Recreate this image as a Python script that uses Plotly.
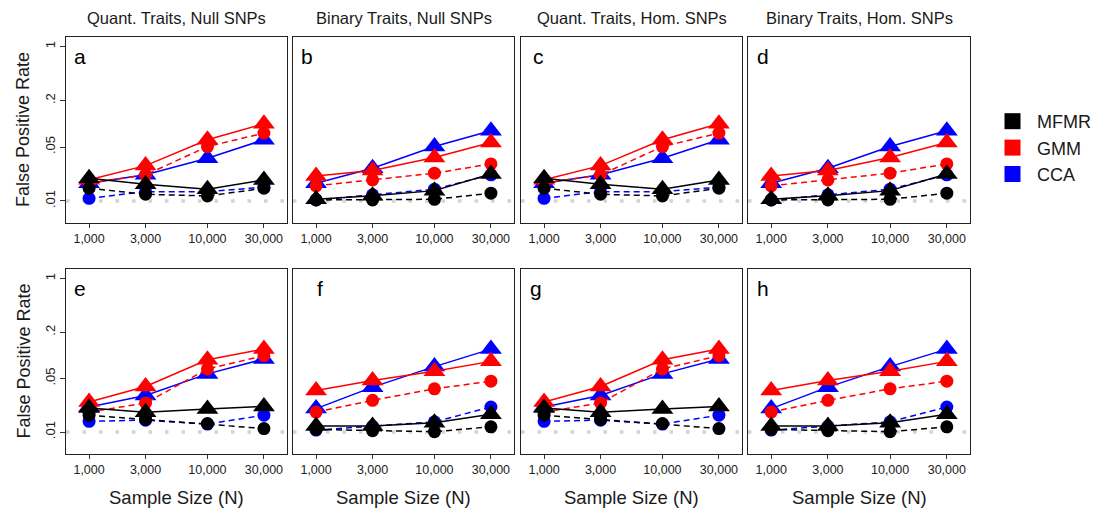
import numpy as np
import plotly.graph_objects as go

# ---------------- data ----------------
SAMPLE_SIZES = [1000, 3000, 10000, 30000]
X_TICK_LABELS = ["1,000", "3,000", "10,000", "30,000"]
Y_TICK_VALUES = [1, 0.2, 0.05, 0.01]
Y_TICK_LABELS = ["1", ".2", ".05", ".01"]
ALPHA = 0.01

COLUMN_TITLES = ["Quant. Traits, Null SNPs", "Binary Traits, Null SNPs",
                 "Quant. Traits, Hom. SNPs", "Binary Traits, Hom. SNPs"]
PANEL_LETTERS = ["a", "b", "c", "d", "e", "f", "g", "h"]
METHODS = ["MFMR", "GMM", "CCA"]
METHOD_COLORS = {"MFMR": "#000000", "GMM": "#ff0000", "CCA": "#0000ff"}

# Row 1, quantitative traits (panels a, c)
Q1_MFMR_SOLID = [0.0197, 0.0164, 0.0142, 0.0187]
Q1_MFMR_DASHED = [0.0146, 0.0122, 0.0116, 0.0146]
Q1_GMM_SOLID = [0.0188, 0.0287, 0.0620, 0.1000]
Q1_GMM_DASHED = [0.0170, 0.0218, 0.0507, 0.0757]
Q1_CCA_SOLID = [0.0170, 0.0218, 0.0358, 0.0620]
Q1_CCA_DASHED = [0.0108, 0.0132, 0.0132, 0.0151]

# Row 1, binary traits (panels b, d)
B1_MFMR_SOLID = [0.0105, 0.0117, 0.0136, 0.0224]
B1_MFMR_DASHED = [0.0103, 0.0103, 0.0105, 0.0126]
B1_GMM_SOLID = [0.0211, 0.0248, 0.0365, 0.0572]
B1_GMM_DASHED = [0.0157, 0.0187, 0.0229, 0.0302]
B1_CCA_SOLID = [0.0170, 0.0266, 0.0508, 0.0811]
B1_CCA_DASHED = [0.0103, 0.0120, 0.0142, 0.0218]

# Row 2, quantitative traits (panels e, g)
Q2_MFMR_SOLID = [0.0206, 0.0181, 0.0200, 0.0216]
Q2_MFMR_DASHED = [0.0166, 0.0146, 0.0129, 0.0111]
Q2_GMM_SOLID = [0.0246, 0.0393, 0.0877, 0.1205]
Q2_GMM_DASHED = [0.0182, 0.0239, 0.0664, 0.0989]
Q2_CCA_SOLID = [0.0212, 0.0300, 0.0573, 0.0895]
Q2_CCA_DASHED = [0.0138, 0.0143, 0.0127, 0.0166]

# Row 2, binary traits (panels f, h)
B2_MFMR_SOLID = [0.0120, 0.0120, 0.0132, 0.0171]
B2_MFMR_DASHED = [0.0108, 0.0104, 0.0101, 0.0117]
B2_GMM_SOLID = [0.0348, 0.0469, 0.0619, 0.0834]
B2_GMM_DASHED = [0.0182, 0.0259, 0.0366, 0.0460]
B2_CCA_SOLID = [0.0202, 0.0385, 0.0713, 0.1205]
B2_CCA_DASHED = [0.0106, 0.0119, 0.0136, 0.0212]

Q1 = {"MFMR": (Q1_MFMR_SOLID, Q1_MFMR_DASHED), "GMM": (Q1_GMM_SOLID, Q1_GMM_DASHED),
      "CCA": (Q1_CCA_SOLID, Q1_CCA_DASHED)}
B1 = {"MFMR": (B1_MFMR_SOLID, B1_MFMR_DASHED), "GMM": (B1_GMM_SOLID, B1_GMM_DASHED),
      "CCA": (B1_CCA_SOLID, B1_CCA_DASHED)}
Q2 = {"MFMR": (Q2_MFMR_SOLID, Q2_MFMR_DASHED), "GMM": (Q2_GMM_SOLID, Q2_GMM_DASHED),
      "CCA": (Q2_CCA_SOLID, Q2_CCA_DASHED)}
B2 = {"MFMR": (B2_MFMR_SOLID, B2_MFMR_DASHED), "GMM": (B2_GMM_SOLID, B2_GMM_DASHED),
      "CCA": (B2_CCA_SOLID, B2_CCA_DASHED)}
PANEL_DATA = [Q1, B1, Q1, B1, Q2, B2, Q2, B2]

# ---------------- layout geometry ----------------
W, H = 1106, 514
FONT = "Liberation Sans, Arial, Helvetica, sans-serif"
COL_PX = [(66, 287), (293, 514), (521, 742), (748, 970)]
ROW_PX = [(37, 223), (269, 454)]
LETTER_OFFSET = [14, 14, 17, 15, 14, 27, 15, 15]

fig = go.Figure()
layout = dict(
    width=W, height=H,
    margin=dict(l=0, r=0, t=0, b=0),
    paper_bgcolor="white", plot_bgcolor="white",
    font=dict(family=FONT, color="#1a1a1a"),
    showlegend=True,
)
annotations = []
shapes = []

for i in range(8):
    r, c = divmod(i, 4)
    n = "" if i == 0 else str(i + 1)
    xa, ya = "x" + n, "y" + n
    data = PANEL_DATA[i]
    for m in ["CCA", "GMM", "MFMR"]:
        solid, dashed = data[m]
        col = METHOD_COLORS[m]
        fig.add_trace(go.Scatter(
            x=SAMPLE_SIZES, y=dashed, mode="lines+markers",
            line=dict(color=col, width=1.5, dash="6px,4px"),
            marker=dict(symbol="circle", size=13, color=col, line=dict(width=0)),
            xaxis=xa, yaxis=ya, showlegend=False, hoverinfo="skip"))
        fig.add_trace(go.Scatter(
            x=SAMPLE_SIZES, y=solid, mode="lines+markers",
            line=dict(color=col, width=1.5),
            marker=dict(symbol="triangle-up", size=19, color=col, line=dict(width=0)),
            xaxis=xa, yaxis=ya, showlegend=False, hoverinfo="skip"))

    x0, x1 = COL_PX[c]
    y0, y1 = ROW_PX[r]
    layout["xaxis" + n] = dict(
        domain=[x0 / W, x1 / W], anchor=ya, type="log", range=[2.805, 4.672],
        tickvals=SAMPLE_SIZES, ticktext=X_TICK_LABELS, ticks="outside", ticklen=4,
        tickcolor="#333", showline=True, mirror=True, linecolor="#222", linewidth=1,
        showgrid=False, zeroline=False, tickfont=dict(size=12.5, family=FONT, color="#222"),
        fixedrange=True)
    layout["yaxis" + n] = dict(
        domain=[1 - y1 / H, 1 - y0 / H], anchor=xa, type="log", range=[-2.286, 0.125],
        tickvals=Y_TICK_VALUES, ticktext=Y_TICK_LABELS,
        ticks="outside" if c == 0 else "", ticklen=5, tickcolor="#333",
        showticklabels=(c == 0), tickangle=-90,
        showline=True, mirror=True, linecolor="#222", linewidth=1,
        showgrid=False, zeroline=False, tickfont=dict(size=13, family=FONT, color="#222"),
        fixedrange=True)

    # reference line at nominal level
    shapes.append(dict(type="line", xref=xa + " domain", yref=ya, x0=0, x1=1,
                       y0=ALPHA, y1=ALPHA, layer="below",
                       line=dict(color="#d3d3d3", width=3.5, dash="3.5px,13px")))

    annotations.append(dict(text=PANEL_LETTERS[i], xref="paper", yref="paper",
                            x=(x0 + LETTER_OFFSET[i]) / W, y=1 - (y0 + 19) / H,
                            xanchor="center", yanchor="middle", showarrow=False,
                            font=dict(size=21, family=FONT, color="black")))

for c, title in enumerate(COLUMN_TITLES):
    x0, x1 = COL_PX[c]
    annotations.append(dict(text=title, xref="paper", yref="paper",
                            x=(x0 + x1) / 2 / W, y=1 - 18 / H, xanchor="center",
                            yanchor="middle", showarrow=False,
                            font=dict(size=16.5, family=FONT, color="#1a1a1a")))
    annotations.append(dict(text="Sample Size (N)", xref="paper", yref="paper",
                            x=(x0 + x1) / 2 / W, y=1 - 497 / H, xanchor="center",
                            yanchor="middle", showarrow=False,
                            font=dict(size=18.5, family=FONT, color="#1a1a1a")))

for r in range(2):
    y0, y1 = ROW_PX[r]
    annotations.append(dict(text="False Positive Rate", xref="paper", yref="paper",
                            x=23 / W, y=1 - (y0 + y1) / 2 / H, xanchor="center",
                            yanchor="middle", textangle=-90, showarrow=False,
                            font=dict(size=18, family=FONT, color="#1a1a1a")))

# legend entries
for m in METHODS:
    fig.add_trace(go.Scatter(x=[None], y=[None], mode="markers", name=m,
                             marker=dict(symbol="square", size=16, color=METHOD_COLORS[m]),
                             showlegend=True, xaxis="x", yaxis="y"))

layout["legend"] = dict(x=988 / W, y=1 - 103 / H, xanchor="left", yanchor="top",
                        font=dict(size=18, family=FONT, color="#1a1a1a"),
                        bgcolor="rgba(0,0,0,0)", traceorder="normal", itemclick=False,
                        itemwidth=39)
layout["annotations"] = annotations
layout["shapes"] = shapes
fig.update_layout(**layout)

fig.write_html("out.html")
